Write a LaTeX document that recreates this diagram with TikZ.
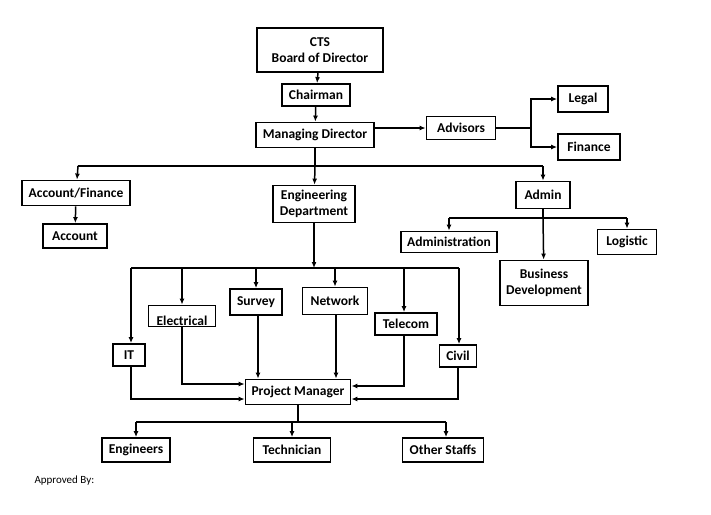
\documentclass[tikz,border=0pt]{standalone}
\usepackage{fontspec}
\setmainfont{Carlito}
\usetikzlibrary{arrows.meta}
\begin{document}
\begin{tikzpicture}[x=1pt,y=-1pt,
 box/.style={draw,line width=1.8pt,font=\bfseries\fontsize{13.5}{16}\selectfont,inner sep=0pt,align=center},
 ar/.style={line width=1.5pt,-{Latex[length=6pt,width=5pt]}},
 ln/.style={line width=1.5pt}]
\useasboundingbox (0,0) rectangle (711,514);
\node[box,minimum width=126,minimum height=44] (cts) at (320,50) {CTS\\Board of Director};
\node[box,minimum width=68,minimum height=22] (ch) at (316,95) {Chairman};
\node[box,minimum width=118,minimum height=25] (md) at (315,135) {Managing Director};
\node[box,minimum width=69,minimum height=23] (adv) at (461,128) {Advisors};
\node[box,minimum width=50,minimum height=26] (legal) at (583,99) {Legal};
\node[box,minimum width=62,minimum height=26] (fin) at (589,147) {Finance};
\node[box,minimum width=108,minimum height=25] (af) at (76,193) {Account/Finance};
\node[box,minimum width=64,minimum height=24] (acc) at (75,236) {Account};
\node[box,minimum width=82,minimum height=37] (eng) at (314,204) {Engineering\\Department};
\node[box,minimum width=54,minimum height=27] (admin) at (543,195) {Admin};
\node[box,minimum width=96,minimum height=21] (adm) at (449,242) {Administration};
\node[box,minimum width=59,minimum height=25] (log) at (627,242) {Logistic};
\node[box,minimum width=88,minimum height=45] (bd) at (544,283) {Business\\Development};
\node[box,minimum width=32,minimum height=22] (it) at (129,355) {IT};
\node[box,minimum width=67,minimum height=21] (el) at (182,316) {};
\begin{scope}
\clip (148,306) rectangle (215,325);
\node[font=\bfseries\fontsize{13.5}{16}\selectfont] at (182,321) {Electrical};
\end{scope}
\node[box,minimum width=52,minimum height=26] (sur) at (256,302) {Survey};
\node[box,minimum width=65,minimum height=27] (net) at (335,301) {Network};
\node[box,minimum width=62,minimum height=22] (tel) at (406,324) {Telecom};
\node[box,minimum width=37,minimum height=22] (civ) at (458,356) {Civil};
\node[box,minimum width=105,minimum height=25] (pm) at (298,392) {Project Manager};
\node[box,minimum width=68,minimum height=24] (en) at (136,450) {Engineers};
\node[box,minimum width=77,minimum height=24] (tec) at (292,450) {Technician};
\node[box,minimum width=81,minimum height=24] (os) at (443,450) {Other Staffs};
\node[anchor=west,font=\fontsize{11}{13}\selectfont] (ap) at (31,481) {Approved By:};
\coordinate (j1) at (531,128);
\draw[ar] (cts) -- (ch);
\draw[ar] (ch) -- (md);
\draw[ar] (md.east |- 0,128) -- (adv);
\draw[ln] (adv) -- (j1);
\draw[ar] (j1) |- (legal);
\draw[ar] (j1) |- (fin);
\draw[ln] (md.south) -- (315,166);
\draw[ln] (78,166) -- (543,166);
\draw[ar] (78,166) -- (af);
\draw[ar] (315,166) -- (eng);
\draw[ar] (543,166) -- (admin);
\draw[ar] (af) -- (acc);
\draw[ln] (admin) -- (543,218);
\draw[ln] (449,218) -- (627,218);
\draw[ar] (449,218) -- (adm);
\draw[ar] (627,218) -- (log);
\draw[ar] (543,218) -- (bd);
\draw[ar] (eng) -- (314,268);
\draw[ln] (131,268) -- (459,268);
\draw[ar] (131,268) -- (it.north -| 131,0);
\draw[ar] (182,268) -- (el);
\draw[ar] (256,268) -- (sur);
\draw[ar] (335,268) -- (net);
\draw[ar] (404,268) -- (tel.north -| 404,0);
\draw[ar] (459,268) -- (civ.north -| 459,0);
\draw[ar] (el) |- (pm.west |- 0,384);
\draw[ar] (it.south -| 131,0) |- (pm.west |- 0,399);
\draw[ar] (sur.south -| 258,0) -- (pm.north -| 258,0);
\draw[ar] (net.south -| 336,0) -- (pm.north -| 336,0);
\draw[ar] (tel.south -| 404,0) |- (pm.east |- 0,386);
\draw[ar] (civ) |- (pm.east |- 0,399);
\draw[ln] (pm) -- (298,422);
\draw[ln] (136,422) -- (446,422);
\draw[ar] (136,422) -- (en);
\draw[ar] (292,422) -- (tec);
\draw[ar] (446,422) -- (os.north -| 446,0);
\end{tikzpicture}
\end{document}
